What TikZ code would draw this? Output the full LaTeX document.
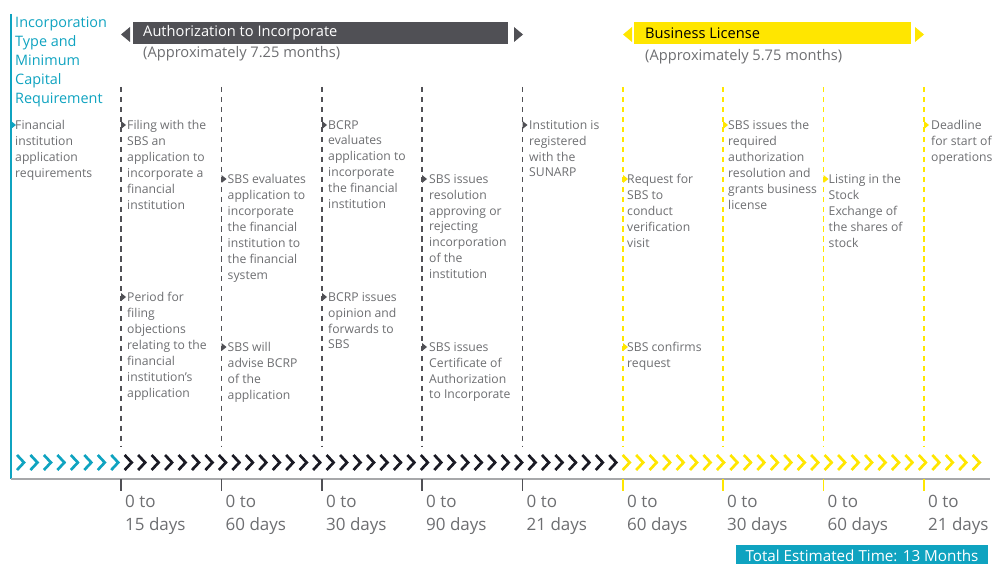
\documentclass[tikz,border=0pt]{standalone}
\usepackage{fontspec}
\setmainfont{Open Sans}
\usetikzlibrary{positioning}

\definecolor{eyteal}{HTML}{0FA3C0}
\definecolor{eyyellow}{HTML}{FFE600}
\definecolor{eydark}{HTML}{505055}
\definecolor{eygray}{HTML}{6D6E71}
\definecolor{eyblack}{HTML}{1A1A24}

\tikzset{
  steptext/.style={anchor=north west,align=left,inner sep=0pt,text=eygray,
    font=\fontsize{10.4}{13.6}\selectfont},
  daystext/.style={anchor=north west,align=left,inner sep=0pt,text=eygray,
    font=\fontsize{14.5}{19.5}\selectfont},
  bartext/.style={anchor=west,inner sep=0pt,font=\fontsize{12.5}{15}\selectfont},
  dashline/.style={line width=1.1pt,dash pattern=on 4.5pt off 4pt},
  chevron/.style={line width=2.3pt,miter limit=10}
}

\begin{document}
\begin{tikzpicture}[x=0.03cm,y=-0.03cm]
\useasboundingbox (0,0) rectangle (998,564);

% Left column: title and the cyan frame.
\node[anchor=north west,align=left,inner sep=0pt,text=eyteal,
  font=\fontsize{12.3}{16.2}\selectfont] (title) at (15,16.5)
  {Incorporation\\Type and\\Minimum\\Capital\\Requirement};
\coordinate (frametop) at (11,14);
\coordinate (framecorner) at (11,479);
\coordinate (axisend) at (990,479);
\draw[eyteal,line width=2pt] (frametop) -- (framecorner);
\draw[eygray!60,line width=1pt] (framecorner) -- (axisend);

% Phase bar: authorization.
\fill[eydark] (133,22) rectangle (508,44);
\fill[eydark] (121,34.5) -- (130,27) -- (130,42) -- cycle;
\fill[eydark] (514,27) -- (523,34.5) -- (514,42) -- cycle;
\node[bartext,text=white] (authbar) at (143,33) {Authorization to Incorporate};
\node[bartext,text=eygray] (authsub) at (143,54) {(Approximately 7.25 months)};

% Phase bar: business license.
\fill[eyyellow] (634,22) rectangle (911,44);
\fill[eyyellow] (623,34.5) -- (632,27) -- (632,42) -- cycle;
\fill[eyyellow] (915,27) -- (924,34.5) -- (915,42) -- cycle;
\node[bartext,text=black] (licbar) at (645,33) {Business License};
\node[bartext,text=eygray] (licsub) at (645,57) {(Approximately 5.75 months)};

% Dashed step lines, ticks and day ranges.
\foreach \k/\x/\c/\d in {1/121/eydark/15,2/221.5/eydark/60,3/322/eydark/30,
    4/422/eydark/90,5/522.5/eydark/21,6/623/eyyellow/60,7/723/eyyellow/30,
    8/823.5/eyyellow/60,9/924/eyyellow/21}{
  \coordinate (top\k) at (\x,87);
  \coordinate (bot\k) at (\x,447);
  \coordinate (axis\k) at (\x,479);
  \coordinate (tick\k) at (\x,491);
  \draw[dashline,\c] (top\k) -- (bot\k);
  \draw[\c,line width=1.1pt] (axis\k) -- (tick\k);
  \node[daystext] (days\k) at (\x+4,495) {0 to\\\d\ days};
}

% Chevron band.
\foreach \i in {0,...,71}{
  \pgfmathsetmacro{\cx}{17+13.46*\i}
  \ifnum\i<8 \def\cc{eyteal}\else\ifnum\i<45 \def\cc{eyblack}\else\def\cc{eyyellow}\fi\fi
  \draw[chevron,\cc] (\cx,455) -- (\cx+7,462.5) -- (\cx,470);
}

% Step markers.
\foreach \x/\y/\c in {11/125/eyteal,
    121/125/eydark,121/297/eydark,221.5/179/eydark,221.5/347/eydark,
    322/125/eydark,322/297/eydark,422/179/eydark,422/347/eydark,
    522.5/125/eydark,623/179/eyyellow,623/347/eyyellow,723/125/eyyellow,
    823.5/179/eyyellow,924/125/eyyellow}{
  \fill[\c] (\x,\y-4) -- (\x+5,\y) -- (\x,\y+4) -- cycle;
}

% Step texts.
\node[steptext] (apply) at (15,120)
  {Financial\\institution\\application\\requirements};
\node[steptext] (filing) at (127,120)
  {Filing with the\\SBS an\\application to\\incorporate a\\financial\\institution};
\node[steptext] (objections) at (127,292)
  {Period for\\filing\\objections\\relating to the\\financial\\institution's\\application};
\node[steptext] (evaluate) at (227.5,174)
  {SBS evaluates\\application to\\incorporate\\the financial\\institution to\\the financial\\system};
\node[steptext] (advise) at (227.5,342)
  {SBS will\\advise BCRP\\of the\\application};
\node[steptext] (bcrpeval) at (328,120)
  {BCRP\\evaluates\\application to\\incorporate\\the financial\\institution};
\node[steptext] (bcrpopinion) at (328,292)
  {BCRP issues\\opinion and\\forwards to\\SBS};
\node[steptext] (resolution) at (429,174)
  {SBS issues\\resolution\\approving or\\rejecting\\incorporation\\of the\\institution};
\node[steptext] (certificate) at (429,342)
  {SBS issues\\Certificate of\\Authorization\\to Incorporate};
\node[steptext] (registered) at (529,120)
  {Institution is\\registered\\with the\\SUNARP};
\node[steptext] (request) at (627,174)
  {Request for\\SBS to\\conduct\\verification\\visit};
\node[steptext] (confirms) at (627,342)
  {SBS confirms\\request};
\node[steptext] (license) at (728,120)
  {SBS issues the\\required\\authorization\\resolution and\\grants business\\license};
\node[steptext] (listing) at (828.5,174)
  {Listing in the\\Stock\\Exchange of\\the shares of\\stock};
\node[steptext] (deadline) at (931,120)
  {Deadline\\for start of\\operations};

% Total time box.
\fill[eyteal] (736,545) rectangle (988,564);
\node[anchor=center,inner sep=0pt,text=white,font=\fontsize{13}{15}\selectfont]
  (total) at (862,556) {Total Estimated Time: 13 Months};

\end{tikzpicture}
\end{document}
